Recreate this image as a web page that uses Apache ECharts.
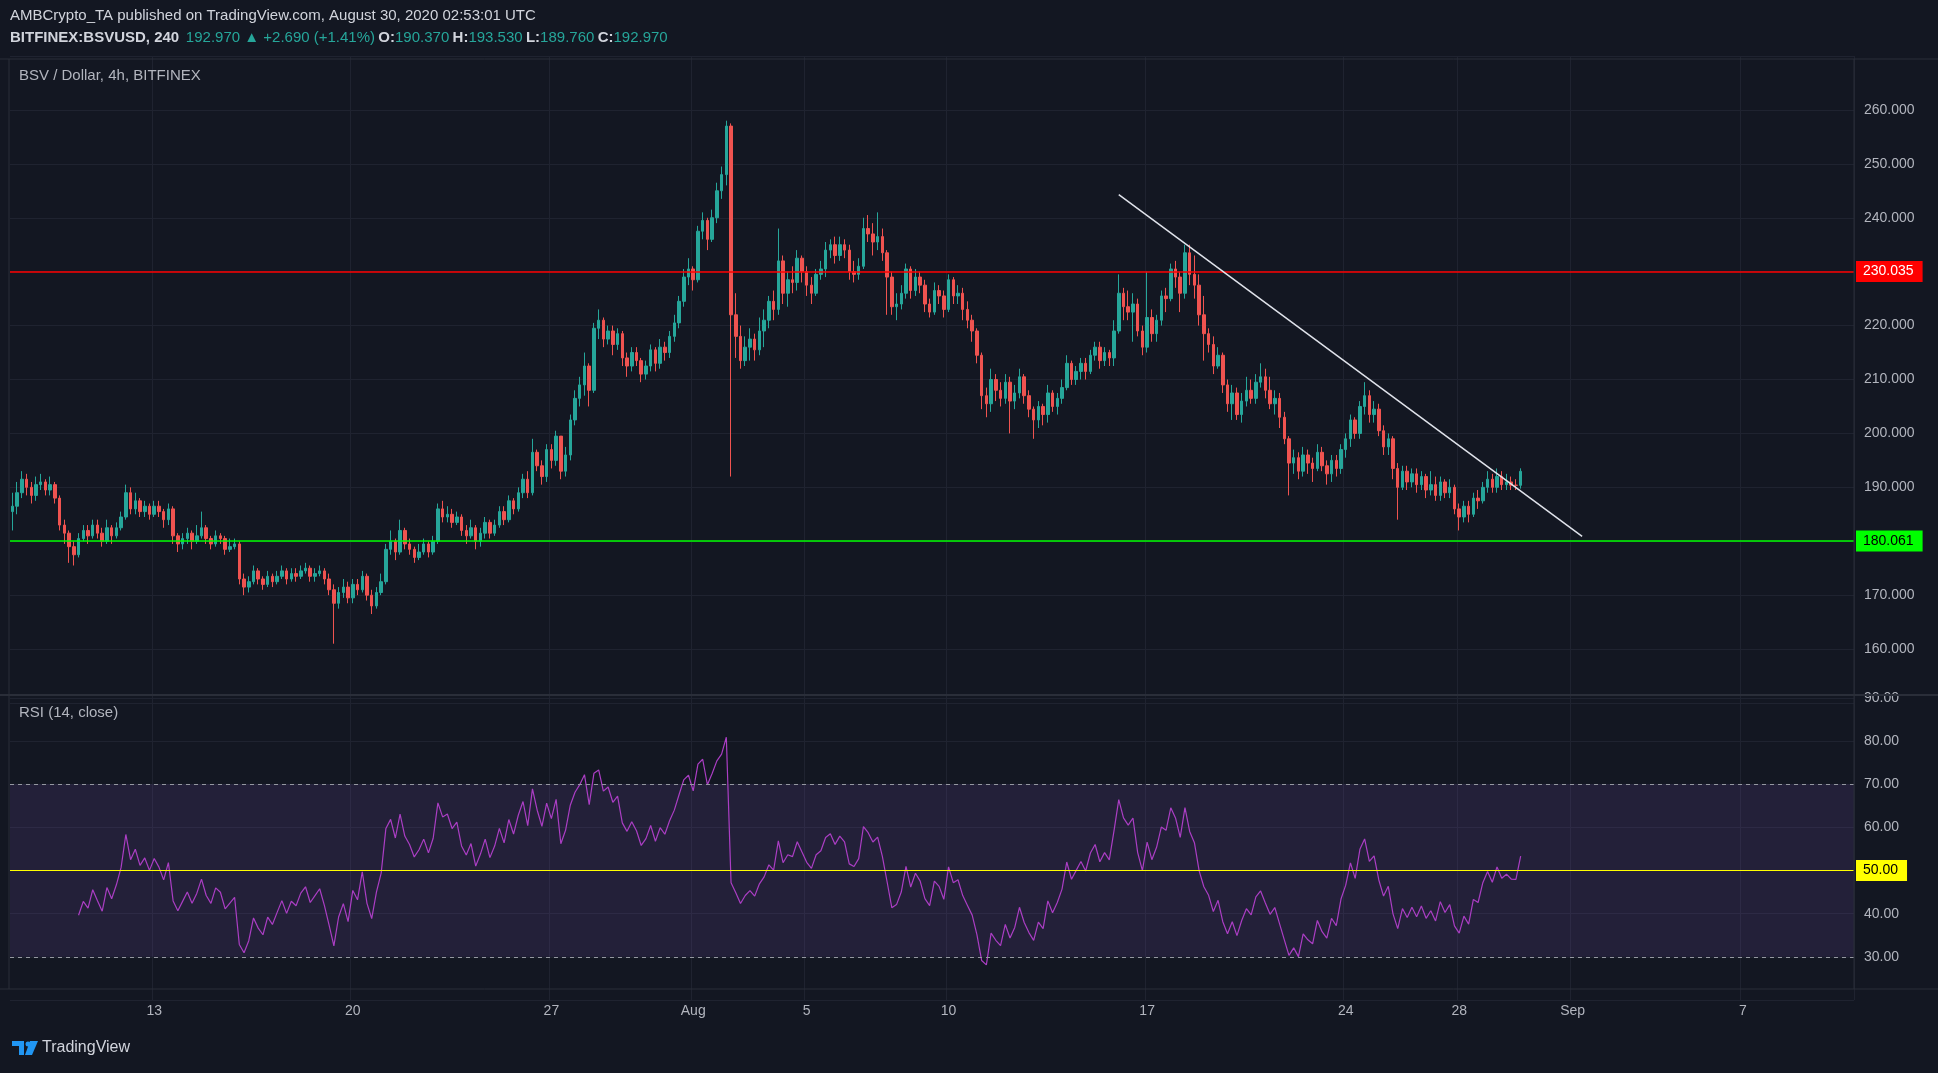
<!DOCTYPE html>
<html>
<head>
<meta charset="utf-8">
<title>BSV / Dollar, 4h</title>
<script src="https://cdn.jsdelivr.net/npm/echarts@6/dist/echarts.min.js"></script>
<style>
  * { margin: 0; padding: 0; }
  html, body, #chart { width: 100%; height: 100%; overflow: hidden; background: #131722; }
</style>
</head>
<body>
<div id="chart"></div>
<script>
// 4h candles, Jul 8 00:00 -> Aug 30 04:00 (6 per day)
var firstOpen = 185.5;
var closes = [
  186.5,189.0,191.5,190.0,188.5,190.5, 191.0,189.5,190.5,188.0,183.0,181.5,
  179.0,177.5,180.5,182.0,181.0,183.0, 181.5,180.0,182.5,181.0,182.5,184.5,
  189.0,186.0,187.5,185.5,186.5,185.0, 186.5,185.5,184.0,186.0,181.0,179.5,
  180.5,181.5,180.0,181.0,182.5,180.5, 179.5,181.0,180.5,178.5,179.0,179.5,
  173.0,171.5,172.5,174.5,173.0,172.0, 173.5,172.5,173.5,174.5,173.0,174.0,
  173.5,174.5,175.0,173.5,174.0,174.5, 173.0,171.0,168.5,170.5,171.5,169.5,
  172.0,171.0,173.5,170.0,168.0,170.5, 172.5,178.5,180.0,178.0,182.0,179.5,
  178.5,177.0,178.0,179.5,178.0,180.0, 186.0,184.5,185.0,183.5,184.5,182.0,
  181.0,182.5,180.0,181.5,183.5,181.5, 183.0,185.5,184.0,187.5,186.0,189.0,
  191.5,189.0,196.5,194.0,192.0,197.0, 195.0,199.5,193.0,196.0,202.5,206.5,
  209.0,212.5,208.0,219.5,221.0,217.5, 219.0,216.5,218.5,214.0,212.5,215.0,
  213.5,211.0,212.5,215.5,213.0,216.0, 215.0,218.0,220.5,224.5,229.0,230.5,
  228.5,237.5,239.5,236.0,240.0,245.0, 248.0,257.0,222.0,218.0,213.5,216.0,
  217.5,215.5,219.0,221.0,224.5,223.0, 232.0,226.0,228.5,228.0,232.5,230.0,
  227.5,226.0,229.5,230.5,234.0,235.0, 233.0,235.0,234.0,230.0,229.5,231.0,
  238.0,237.0,235.5,236.5,233.5,229.0, 223.5,224.0,226.0,230.5,226.5,229.0,
  227.5,224.0,222.5,226.5,225.5,223.0, 228.5,225.5,226.0,223.0,221.0,219.0,
  214.5,207.0,205.5,210.0,208.0,206.5, 209.5,206.0,207.5,210.5,207.0,204.5,
  202.5,205.0,203.5,207.5,205.0,206.5, 208.5,213.0,210.0,211.5,213.0,211.5,
  214.5,216.0,213.5,215.0,214.0,219.0, 226.0,223.5,222.5,224.0,219.0,216.0,
  221.5,218.5,221.0,225.5,225.0,230.5, 229.0,226.0,233.5,229.5,227.5,222.0,
  218.5,216.5,212.5,214.5,209.0,205.5, 207.5,203.5,206.0,208.0,206.5,209.5,
  210.5,208.0,205.5,206.5,203.0,199.0, 194.5,195.5,193.0,196.0,194.5,193.5,
  196.5,194.0,192.5,195.0,193.5,197.0, 199.0,202.5,200.0,205.0,207.0,203.5,
  204.5,200.5,197.5,199.0,193.5,190.0, 193.0,191.0,192.5,190.5,192.0,189.5,
  190.5,188.5,191.0,189.0,190.0,186.0, 184.5,186.5,185.0,188.0,187.5,190.0,
  191.5,190.0,192.0,190.5,191.0,190.4, 190.37,192.97
];
var highs = [
  189,191,193,192.5,191,192, 192.5,191.5,192,191,188.5,184,
  182,180,181.5,183,183,184, 184,182.5,184,183,183.5,185.5,
  190.5,190,189,188,187.5,187, 187.5,187.5,186,187,186.5,181.5,
  181.5,182.5,182,183,185.5,183, 181,182,181.5,181,180.5,180.5,
  180,174,173.5,175.5,175,173.5, 174.5,174,174.5,175.5,175,175,
  175,175.5,176,175.5,175,175.5, 175,174,172,171.5,173,172.5,
  173,173,174.5,174,171,171.5, 174,179.5,182,180.5,184,182.5,
  180.5,179,179.5,180.5,180,181, 187,187.5,186.5,186,185.5,185,
  183,184,183,182.5,184.5,184, 184,186.5,186.5,188.5,188,190,
  192.5,193,199,197,195,198, 198,200.5,199.5,197.5,203.5,208,
  210.5,215,213,220.5,223,221.5, 220,220,219.5,219,215,216,
  216,214,213.5,216.5,216,217.5, 217,219,222,225.5,230.5,232.5,
  231,238.5,241,240,241.5,246.5, 249.5,258,257.5,226,220,218,
  219.5,218.5,221.5,223,225.5,226.5, 238,233,230,231,234,233,
  231,229,230.5,232,235.5,236, 236.5,236.5,236,235,232,232.5,
  240,240.5,239,241,238,234, 230,226,227.5,231.5,231,230.5,
  230,228.5,225,228,227.5,226.5, 229.5,229,227.5,227,224.5,222,
  219.5,215,208.5,212,211,209.5, 211,210.5,209,212,211,208,
  205,206,205.5,209,208,207.5, 210,214.5,213.5,212.5,214,214,
  215.5,217,217,216,215.5,221, 229.5,227,226.5,226,225,220,
  230,223,222,226.5,227,231.5, 232,230,235,235,233,229.5,
  225.5,219.5,218,216,215,210, 209,208.5,207.5,210.5,210,211,
  213,212,210.5,208,207.5,204, 199.5,197,196.5,197.5,197,195.5,
  198,197.5,195,196,196,198, 200,203.5,203,206,209.5,208,
  206,205.5,201.5,200,199.5,194.5, 194,194,193.5,193.5,193,192.5,
  193,192,192,191.5,191.5,190.5, 187,187.5,187.5,189,189.5,191,
  193,192.5,193.5,193,192.5,192, 191.5,193.53
];
var lows = [
  182,185,188,188.5,187,187.5, 189.5,188.5,188.5,187,182,179.5,
  176,175.5,177,180,179.5,180.5, 180.5,179,179.5,179.5,180.5,182,
  184,185,185,184.5,184.5,184, 184.5,184.5,182.5,183,179.5,178,
  178.5,179.5,178.5,179.5,180.5,179.5, 178.5,179,179.5,177.5,178,178.5,
  172,170,170.5,172,172,171, 171.5,171.5,172,173,172,172.5,
  172.5,173,174,172.5,172.5,173.5, 172,170,161,167.5,169.5,168.5,
  168.5,170,170.5,169,166.5,167.5, 170,172,177.5,176.5,177.5,178.5,
  177.5,176,176.5,177.5,177,177.5, 179.5,183.5,183.5,182.5,183,181,
  179.5,180.5,178.5,179,180.5,180.5, 181,182.5,183,183.5,185,185.5,
  188,188,188.5,193,190.5,191, 193.5,194,191.5,192,195,201.5,
  205,207,205,207.5,217.5,216, 216.5,214.5,215.5,212.5,210.5,211.5,
  212.5,209.5,210,211.5,211.5,212, 213.5,214,217,219.5,223.5,227.5,
  226.5,228,236,234,235.5,239, 243.5,246,192,214,212,212.5,
  213.5,213.5,214.5,216,219.5,221, 222,224,223.5,226,226.5,228,
  225.5,224,225.5,228.5,229,232.5, 231.5,232,232.5,228.5,228,228.5,
  230.5,235.5,233,234,232,222, 222,221,223,225,225,225.5,
  226,222.5,221.5,222,224,221.5, 222.5,224,224,221,219.5,217,
  213,204.5,203,204,206,205, 205.5,200,204.5,206.5,205.5,203,
  199,201,201.5,202,204,203.5, 205.5,208,209,209,210,210,
  211,213.5,212,212.5,212.5,212.5, 218.5,221,221,217,218,214.5,
  215,217,217,220,222.5,224.5, 227,222.5,225,227.5,225,220,
  213.5,215,211,212,207.5,204, 202.5,202.5,202,205,205.5,205.5,
  208.5,206.5,204.5,203.5,201,198, 188.5,192.5,191.5,192,192.5,191,
  193,193,190.5,191,192,192.5, 195.5,197.5,199,199,203.5,202,
  202,199.5,196,196,191.5,184, 189.5,189.5,190,189,189.5,188,
  188.5,187.5,187.5,188,188,185, 182,183.5,183.5,184.5,186,187,
  189,189,189,189.5,189.5,189.5, 189.5,189.76
];
// axis labels: category index -> text
var dayLabels = { 30: '13', 72: '20', 114: '27', 144: 'Aug', 168: '5', 198: '10',
  240: '17', 282: '24', 306: '28', 330: 'Sep', 366: '7' };
var resistance = 230.035, support = 180.061, lastPrice = 192.97;
var trendStart = [234, 244.3], trendEnd = [332, 180.9];

var nCat = 390;
var cats = [], ohlc = [];
for (var i = 0; i < nCat; i++) {
  cats.push(String(i));
  if (i < closes.length) {
    var o = i === 0 ? firstOpen : closes[i - 1];
    ohlc.push([o, closes[i], lows[i], highs[i]]);
  } else ohlc.push('-');
}
// RSI(14), Wilder smoothing
var rsi = [];
var ag = 0, al = 0;
for (var i = 0; i < nCat; i++) {
  if (i >= closes.length || i === 0) { rsi.push('-'); continue; }
  var d = closes[i] - closes[i - 1];
  var g = d > 0 ? d : 0, l = d < 0 ? -d : 0;
  if (i <= 14) {
    ag += g / 14; al += l / 14;
    rsi.push(i === 14 ? +(100 - 100 / (1 + ag / al)).toFixed(2) : '-');
  } else {
    ag = (ag * 13 + g) / 14; al = (al * 13 + l) / 14;
    rsi.push(+(100 - 100 / (1 + ag / al)).toFixed(2));
  }
}

var showIdx = function (idx) { return dayLabels[idx] !== undefined; };
var gridCol = '#1f2330';
var font = 'Liberation Sans, Arial';
var axisText = { color: '#b2b5be', fontSize: 14, fontFamily: font };
var boxLabel = function (bg, fg, txt) {
  return { show: true, position: 'end', distance: 2, formatter: txt, backgroundColor: bg,
    color: fg, padding: [4, 9, 3, 7], fontSize: 14, fontFamily: font };
};
var sep = function (x1, y1, x2, y2, w) {
  return { type: 'line', z: 10, silent: true, shape: { x1: x1, y1: y1, x2: x2, y2: y2 }, style: { stroke: '#2a2e39', lineWidth: w } };
};
var txt = function (x, y, s, color, size) {
  return { type: 'text', x: x, y: y, z: 20, silent: true, style: { text: s, fill: color, fontSize: size, fontFamily: font } };
};

var chart = echarts.init(document.getElementById('chart'));
chart.setOption({
  backgroundColor: '#131722',
  animation: false,
  grid: [
    { left: 10, right: 84, top: 56, height: 647 },
    { left: 10, right: 84, top: 698, height: 302 }
  ],
  xAxis: [
    { type: 'category', data: cats, gridIndex: 0, axisLine: { show: false }, axisTick: { show: false },
      axisLabel: { show: false }, splitLine: { show: true, interval: showIdx, lineStyle: { color: gridCol } } },
    { type: 'category', data: cats, gridIndex: 1, axisLine: { show: false }, axisTick: { show: false },
      axisLabel: Object.assign({ interval: showIdx, margin: 4, formatter: function (v, idx) { return dayLabels[idx] || ''; } }, axisText),
      splitLine: { show: true, interval: showIdx, lineStyle: { color: gridCol } } }
  ],
  yAxis: [
    { type: 'value', gridIndex: 0, position: 'right', min: 150, max: 270, interval: 10,
      axisLine: { show: false }, axisTick: { show: false },
      axisLabel: Object.assign({ margin: 10, showMinLabel: false, showMaxLabel: false,
        formatter: function (v) { return v.toFixed(3); } }, axisText),
      splitLine: { lineStyle: { color: gridCol } } },
    { type: 'value', gridIndex: 1, position: 'right', min: 20, max: 90, interval: 10,
      axisLine: { show: false }, axisTick: { show: false },
      axisLabel: Object.assign({ margin: 10, showMinLabel: false,
        formatter: function (v) { return v.toFixed(2); } }, axisText),
      splitLine: { lineStyle: { color: gridCol } } }
  ],
  graphic: [
    sep(0, 695, 1938, 695, 2), sep(0, 989, 1938, 989, 1), sep(1854, 59, 1854, 989, 1),
    sep(9, 59, 9, 989, 1), sep(0, 59, 1938, 59, 1),
    txt(10, 8, 'AMBCrypto_TA published on TradingView.com, August 30, 2020 02:53:01 UTC', '#d1d4dc', 15),
    { type: 'text', x: 10, y: 30, z: 20, silent: true, style: {
      text: '{b|BITFINEX:BSVUSD, 240}  {t|192.970 ▲ +2.690 (+1.41%)} {b|O:}{t|190.370} {b|H:}{t|193.530} {b|L:}{t|189.760} {b|C:}{t|192.970}',
      rich: { b: { fill: '#d1d4dc', fontSize: 15, fontWeight: 'bold', fontFamily: font },
              t: { fill: '#26a69a', fontSize: 15, fontFamily: font } } } },
    txt(19, 68, 'BSV / Dollar, 4h, BITFINEX', '#b2b5be', 15),
    txt(19, 705, 'RSI (14, close)', '#b2b5be', 15),
    { type: 'polygon', z: 20, silent: true, shape: { points: [[12, 1041], [24, 1041], [24, 1055], [19, 1055], [19, 1046], [12, 1046]] }, style: { fill: '#2196f3' } },
    { type: 'polygon', z: 20, silent: true, shape: { points: [[30, 1041], [38, 1041], [32, 1055], [25, 1055]] }, style: { fill: '#2196f3' } },
    { type: 'circle', z: 20, silent: true, shape: { cx: 28, cy: 1044, r: 2.5 }, style: { fill: '#2196f3' } },
    txt(42, 1040, 'TradingView', '#d1d4dc', 16)
  ],
  series: [
    { type: 'candlestick', xAxisIndex: 0, yAxisIndex: 0, data: ohlc, barWidth: 3,
      itemStyle: { color: '#26a69a', color0: '#ef5350', borderColor: '#26a69a', borderColor0: '#ef5350', borderWidth: 1 },
      markLine: { symbol: 'none', silent: true, animation: false,
        data: [
          { yAxis: resistance, lineStyle: { color: '#ff0000', width: 1.5, type: 'solid' }, label: boxLabel('#ff0000', '#ffffff', resistance.toFixed(3)) },
          { yAxis: support, lineStyle: { color: '#00ff00', width: 1.5, type: 'solid' }, label: boxLabel('#00ff00', '#000000', support.toFixed(3)) },
          { yAxis: lastPrice, lineStyle: { opacity: 0 }, label: boxLabel('#26a69a', '#ffffff', lastPrice.toFixed(3)) },
          [ { coord: trendStart, lineStyle: { color: '#e0e3eb', width: 1.5, type: 'solid' }, label: { show: false } },
            { coord: trendEnd } ]
        ] } },
    { type: 'line', xAxisIndex: 1, yAxisIndex: 1, data: rsi, showSymbol: false, symbol: 'none',
      lineStyle: { color: '#ab3ec4', width: 1.2 },
      markArea: { silent: true, itemStyle: { color: 'rgba(126,87,194,0.15)' }, data: [[{ yAxis: 30 }, { yAxis: 70 }]] },
      markLine: { symbol: 'none', silent: true, animation: false,
        data: [
          { yAxis: 70, lineStyle: { color: '#9598a1', type: [4, 4], width: 1 }, label: { show: false } },
          { yAxis: 30, lineStyle: { color: '#9598a1', type: [4, 4], width: 1 }, label: { show: false } },
          { yAxis: 50, lineStyle: { color: '#ffff00', type: 'solid', width: 1.2 }, label: boxLabel('#ffff00', '#000000', '50.00') }
        ] } }
  ]
});
</script>
</body>
</html>
